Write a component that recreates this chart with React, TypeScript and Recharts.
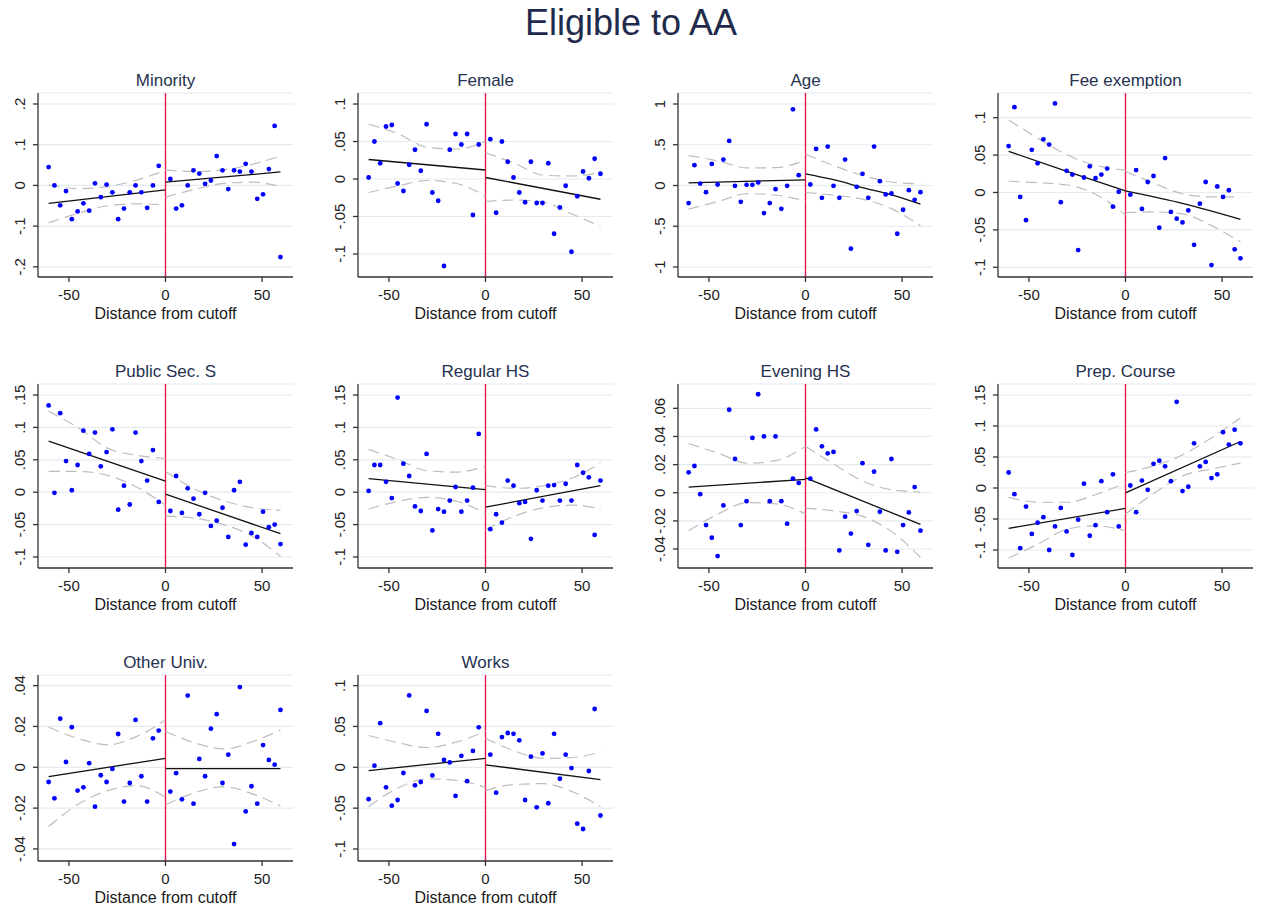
import {
  CartesianGrid,
  ComposedChart,
  Label,
  Line,
  ReferenceLine,
  Scatter,
  XAxis,
  YAxis,
} from "recharts";

// bin centres: 20 below the cutoff, 20 above
const BIN_X = [
  -60.5, -57.5, -54.5, -51.5, -48.5, -45.5, -42.5, -39.5, -36.5, -33.5,
  -30.5, -27.5, -24.5, -21.5, -18.5, -15.5, -12.5, -9.5, -6.5, -3.5,
  2.5, 5.5, 8.5, 11.5, 14.5, 17.5, 20.5, 23.5, 26.5, 29.5,
  32.5, 35.5, 38.5, 41.5, 44.5, 47.5, 50.5, 53.5, 56.5, 59.5,
];
const CI_XL = [-60.5, -45, -30, -15, 0];
const CI_XR = [0, 15, 30, 45, 59.5];
const X_TICKS = [-50, 0, 50];

type Pair = [number, number];

// Minority
const minorityY = [0.045, 0.0, -0.049, -0.014, -0.083, -0.064, -0.044, -0.062, 0.005, -0.029, 0.002, -0.017, -0.083, -0.057, -0.017, 0.0, -0.017, -0.055, 0.0, 0.048, 0.016, -0.057, -0.049, 0.0, 0.037, 0.029, 0.004, 0.012, 0.072, 0.037, -0.009, 0.037, 0.034, 0.053, 0.034, -0.033, -0.022, 0.04, 0.146, -0.176];
const minorityFitL: Pair[] = [[-60.5, -0.044], [0, -0.011]];
const minorityFitR: Pair[] = [[0, 0.008], [59.5, 0.033]];
const minorityHiL = [0.001, -0.008, -0.003, 0.013, 0.037];
const minorityLoL = [-0.092, -0.068, -0.05, -0.045, -0.048];
const minorityHiR = [0.038, 0.034, 0.038, 0.052, 0.072];
const minorityLoR = [-0.029, -0.01, 0.005, 0.008, -0.003];

// Female
const femaleY = [0.002, 0.05, 0.021, 0.07, 0.072, -0.006, -0.016, 0.019, 0.039, 0.011, 0.073, -0.018, -0.029, -0.116, 0.039, 0.06, 0.046, 0.06, -0.048, 0.046, 0.053, -0.045, 0.05, 0.023, 0.002, -0.018, -0.031, 0.023, -0.032, -0.032, 0.021, -0.073, -0.038, -0.009, -0.097, -0.023, 0.01, 0.001, 0.027, 0.007];
const femaleFitL: Pair[] = [[-60.5, 0.026], [0, 0.012]];
const femaleFitR: Pair[] = [[0, 0.002], [59.5, -0.027]];
const femaleHiL = [0.073, 0.06, 0.042, 0.04, 0.05];
const femaleLoL = [-0.018, -0.009, -0.002, -0.006, -0.023];
const femaleHiR = [0.035, 0.021, 0.005, 0.004, 0.009];
const femaleLoR = [-0.03, -0.028, -0.031, -0.047, -0.063];

// Age
const ageY = [-0.216, 0.249, 0.024, -0.082, 0.265, 0.012, 0.318, 0.547, -0.004, -0.2, 0.008, 0.008, 0.037, -0.339, -0.216, -0.045, -0.286, -0.004, 0.935, 0.127, 0.012, 0.449, -0.151, 0.478, -0.004, -0.151, 0.318, -0.776, -0.016, 0.143, -0.151, 0.478, 0.053, -0.11, -0.098, -0.592, -0.298, -0.057, -0.176, -0.082];
const ageFitL: Pair[] = [[-60.5, 0.033], [0, 0.07]];
const ageFitR: Pair[] = [[0, 0.143], [15, 0.068], [30, -0.028], [45, -0.118], [59.5, -0.229]];
const ageHiL = [0.367, 0.3, 0.215, 0.22, 0.31];
const ageLoL = [-0.29, -0.195, -0.1, -0.12, -0.19];
const ageHiR = [0.384, 0.24, 0.12, 0.04, 0.02];
const ageLoR = [-0.086, -0.12, -0.17, -0.29, -0.494];

// Fee exemption
const feeY = [0.062, 0.114, -0.006, -0.037, 0.057, 0.039, 0.071, 0.064, 0.119, -0.013, 0.029, 0.024, -0.077, 0.02, 0.035, 0.019, 0.024, 0.032, -0.019, 0.001, -0.003, 0.03, -0.022, 0.014, 0.022, -0.047, 0.046, -0.026, -0.035, -0.04, -0.024, -0.07, -0.015, 0.014, -0.097, 0.008, -0.006, 0.003, -0.076, -0.088];
const feeFitL: Pair[] = [[-60.5, 0.055], [-30, 0.028], [0, 0.002]];
const feeFitR: Pair[] = [[0, 0.002], [30, -0.015], [59.5, -0.036]];
const feeHiL = [0.097, 0.072, 0.05, 0.036, 0.03];
const feeLoL = [0.015, 0.013, 0.01, -0.003, -0.03];
const feeHiR = [0.028, 0.012, -0.002, -0.006, -0.006];
const feeLoR = [-0.027, -0.026, -0.029, -0.045, -0.066];

// Public Sec. S
const publicY = [0.134, -0.001, 0.122, 0.048, 0.003, 0.042, 0.095, 0.059, 0.092, 0.04, 0.062, 0.097, -0.027, 0.01, -0.019, 0.092, 0.048, 0.018, 0.065, -0.015, -0.029, 0.025, -0.032, 0.006, -0.01, -0.034, -0.001, -0.052, -0.044, -0.024, -0.069, 0.003, 0.016, -0.081, -0.063, -0.069, -0.03, -0.054, -0.05, -0.08];
const publicFitL: Pair[] = [[-60.5, 0.079], [0, 0.017]];
const publicFitR: Pair[] = [[0, -0.003], [59.5, -0.064]];
const publicHiL = [0.125, 0.099, 0.068, 0.057, 0.052];
const publicLoL = [0.032, 0.032, 0.026, 0.008, -0.02];
const publicHiR = [0.032, 0.005, -0.013, -0.024, -0.028];
const publicLoR = [-0.037, -0.04, -0.05, -0.068, -0.099];

// Regular HS
const regularY = [0.002, 0.042, 0.042, 0.016, -0.009, 0.146, 0.044, 0.025, -0.022, -0.029, 0.059, -0.059, -0.026, -0.03, -0.013, 0.008, -0.03, -0.013, 0.007, 0.09, -0.057, -0.034, -0.047, 0.018, 0.01, -0.017, -0.015, -0.072, 0.003, -0.013, 0.01, 0.011, -0.013, 0.013, -0.013, 0.042, 0.03, 0.023, -0.066, 0.018];
const regularFitL: Pair[] = [[-60.5, 0.021], [0, 0.004]];
const regularFitR: Pair[] = [[0, -0.023], [59.5, 0.01]];
const regularHiL = [0.066, 0.05, 0.033, 0.031, 0.04];
const regularLoL = [-0.026, -0.014, -0.008, -0.014, -0.032];
const regularHiR = [0.01, 0.006, 0.01, 0.022, 0.045];
const regularLoR = [-0.058, -0.037, -0.024, -0.02, -0.026];

// Evening HS
const eveningY = [0.0145, 0.019, -0.001, -0.023, -0.032, -0.045, -0.009, 0.059, 0.024, -0.023, -0.006, 0.039, 0.07, 0.04, -0.006, 0.04, -0.006, -0.022, 0.01, 0.007, 0.01, 0.045, 0.033, 0.028, 0.029, -0.041, -0.017, -0.029, -0.013, 0.021, -0.037, 0.015, -0.0135, -0.041, 0.024, -0.042, -0.023, -0.014, 0.004, -0.027];
const eveningFitL: Pair[] = [[-60.5, 0.004], [0, 0.0095]];
const eveningFitR: Pair[] = [[0, 0.0105], [59.5, -0.0225]];
const eveningHiL = [0.035, 0.028, 0.021, 0.023, 0.033];
const eveningLoL = [-0.027, -0.015, -0.007, -0.008, -0.015];
const eveningHiR = [0.033, 0.02, 0.008, 0.002, 0.0005];
const eveningLoR = [-0.011, -0.013, -0.017, -0.028, -0.046];

// Prep. Course
const prepY = [0.025, -0.01, -0.097, -0.03, -0.074, -0.056, -0.047, -0.1, -0.062, -0.032, -0.07, -0.108, -0.051, 0.007, -0.077, -0.06, 0.011, -0.039, 0.022, -0.062, 0.004, -0.039, 0.012, -0.003, 0.039, 0.044, 0.035, 0.011, 0.139, -0.005, 0.002, 0.072, 0.035, 0.042, 0.016, 0.022, 0.09, 0.07, 0.094, 0.072];
const prepFitL: Pair[] = [[-60.5, -0.065], [0, -0.033]];
const prepFitR: Pair[] = [[0, -0.008], [59.5, 0.075]];
const prepHiL = [-0.015, -0.023, -0.023, -0.01, 0.008];
const prepLoL = [-0.113, -0.09, -0.066, -0.061, -0.069];
const prepHiR = [0.025, 0.036, 0.054, 0.082, 0.113];
const prepLoR = [-0.042, -0.008, 0.02, 0.031, 0.04];

// Other Univ.
const otherY = [-0.0072, -0.0152, 0.0238, 0.0026, 0.0196, -0.0114, -0.0098, 0.002, -0.0193, -0.0039, -0.0072, -0.0008, 0.0163, -0.0168, -0.0077, 0.0232, -0.0044, -0.0168, 0.0142, 0.018, -0.0119, -0.0029, -0.0157, 0.0351, -0.0178, 0.0041, -0.0044, 0.0189, 0.026, -0.0077, 0.0062, -0.0376, 0.0393, -0.0216, -0.0093, -0.0178, 0.0109, 0.0036, 0.0013, 0.0281];
const otherFitL: Pair[] = [[-60.5, -0.0046], [0, 0.0044]];
const otherFitR: Pair[] = [[0, -0.0007], [59.5, -0.0007]];
const otherHiL = [0.0196, 0.014, 0.011, 0.015, 0.0232];
const otherLoL = [-0.029, -0.018, -0.0115, -0.009, -0.0147];
const otherHiR = [0.0175, 0.012, 0.009, 0.0125, 0.0183];
const otherLoR = [-0.0184, -0.0125, -0.0095, -0.013, -0.019];

// Works
const worksY = [-0.039, 0.002, 0.054, -0.0245, -0.047, -0.04, -0.007, 0.088, -0.022, -0.018, 0.069, -0.01, 0.041, 0.009, 0.006, -0.035, 0.014, -0.017, 0.02, 0.049, 0.0155, -0.031, 0.037, 0.042, 0.041, 0.033, -0.04, 0.013, -0.049, 0.017, -0.044, 0.041, -0.014, 0.0155, -0.001, -0.069, -0.0755, -0.0045, 0.0714, -0.059];
const worksFitL: Pair[] = [[-60.5, -0.004], [0, 0.011]];
const worksFitR: Pair[] = [[0, 0.003], [59.5, -0.015]];
const worksHiL = [0.039, 0.03, 0.024, 0.031, 0.044];
const worksLoL = [-0.048, -0.025, -0.014, -0.016, -0.0245];
const worksHiR = [0.0355, 0.02, 0.011, 0.012, 0.019];
const worksLoR = [-0.0285, -0.021, -0.02, -0.03, -0.048];

const FONT = "'Liberation Sans', Arial, sans-serif";
const ROW_TOP = [93, 384, 675];
const ROW_H = [184, 184, 186];

const pts = (xs: number[], ys: number[]) => xs.map((x, i) => ({ x, y: ys[i] }));
const pairs = (p: Pair[]) => p.map(([x, y]) => ({ x, y }));
const fmt = (v: number) => (v === 0 ? "0" : String(v).replace("0.", "."));

const panels = [
  { title: "Minority", y: minorityY, fitL: minorityFitL, fitR: minorityFitR, hiL: minorityHiL, loL: minorityLoL, hiR: minorityHiR, loR: minorityLoR, domain: [-0.225, 0.227], ticks: [-0.2, -0.1, 0, 0.1, 0.2] },
  { title: "Female", y: femaleY, fitL: femaleFitL, fitR: femaleFitR, hiL: femaleHiL, loL: femaleLoL, hiR: femaleHiR, loR: femaleLoR, domain: [-0.1307, 0.1147], ticks: [-0.1, -0.05, 0, 0.05, 0.1] },
  { title: "Age", y: ageY, fitL: ageFitL, fitR: ageFitR, hiL: ageHiL, loL: ageLoL, hiR: ageHiR, loR: ageLoR, domain: [-1.123, 1.135], ticks: [-1, -0.5, 0, 0.5, 1] },
  { title: "Fee exemption", y: feeY, fitL: feeFitL, fitR: feeFitR, hiL: feeHiL, loL: feeLoL, hiR: feeHiR, loR: feeLoR, domain: [-0.113, 0.133], ticks: [-0.1, -0.05, 0, 0.05, 0.1] },
  { title: "Public Sec. S", y: publicY, fitL: publicFitL, fitR: publicFitR, hiL: publicHiL, loL: publicLoL, hiR: publicHiR, loR: publicLoR, domain: [-0.117, 0.167], ticks: [-0.1, -0.05, 0, 0.05, 0.1, 0.15] },
  { title: "Regular HS", y: regularY, fitL: regularFitL, fitR: regularFitR, hiL: regularHiL, loL: regularLoL, hiR: regularHiR, loR: regularLoR, domain: [-0.117, 0.167], ticks: [-0.1, -0.05, 0, 0.05, 0.1, 0.15] },
  { title: "Evening HS", y: eveningY, fitL: eveningFitL, fitR: eveningFitR, hiL: eveningHiL, loL: eveningLoL, hiR: eveningHiR, loR: eveningLoR, domain: [-0.0535, 0.0773], ticks: [-0.04, -0.02, 0, 0.02, 0.04, 0.06] },
  { title: "Prep. Course", y: prepY, fitL: prepFitL, fitR: prepFitR, hiL: prepHiL, loL: prepLoL, hiR: prepHiR, loR: prepLoR, domain: [-0.129, 0.1677], ticks: [-0.1, -0.05, 0, 0.05, 0.1, 0.15] },
  { title: "Other Univ.", y: otherY, fitL: otherFitL, fitR: otherFitR, hiL: otherHiL, loL: otherLoL, hiR: otherHiR, loR: otherLoR, domain: [-0.0459, 0.0452], ticks: [-0.04, -0.02, 0, 0.02, 0.04] },
  { title: "Works", y: worksY, fitL: worksFitL, fitR: worksFitR, hiL: worksHiL, loL: worksLoL, hiR: worksHiR, loR: worksLoR, domain: [-0.1147, 0.113], ticks: [-0.1, -0.05, 0, 0.05, 0.1] },
];

type PanelDef = (typeof panels)[number];

function YTick(props: any) {
  const { y, payload } = props;
  const cx = 20;
  return (
    <text
      x={cx}
      y={y}
      transform={`rotate(-90, ${cx}, ${y})`}
      textAnchor="middle"
      dominantBaseline="central"
      fontSize={15}
      fontFamily={FONT}
      fill="#222"
    >
      {fmt(payload.value)}
    </text>
  );
}

const Dot = (p: any) => <circle cx={p.cx} cy={p.cy} r={2.4} fill="#0000ff" />;

function Panel({ p, col, row }: { p: PanelDef; col: number; row: number }) {
  const plotH = ROW_H[row];
  const H = plotH + 5 + 45;
  const left = col * 320;
  const top = ROW_TOP[row] - 5;
  const ciStyle = { stroke: "#bdbdbd", strokeWidth: 1.2, strokeDasharray: "11 6" };
  return (
    <div style={{ position: "absolute", left, top, width: 320, height: H }}>
      <ComposedChart
        width={320}
        height={H}
        margin={{ top: 5, right: 27, bottom: 0, left: 0 }}
      >
        <CartesianGrid vertical={false} stroke="#e3ecef" strokeWidth={1.2} />
        <XAxis
          type="number"
          dataKey="x"
          domain={[-66, 66]}
          ticks={X_TICKS}
          allowDataOverflow
          height={45}
          tickSize={5}
          tickMargin={7}
          axisLine={{ stroke: "#333", strokeWidth: 1.3 }}
          tickLine={{ stroke: "#333", strokeWidth: 1.3 }}
          tick={{ fontSize: 15, fill: "#222", fontFamily: FONT }}
        >
          <Label
            value="Distance from cutoff"
            position="insideBottom"
            offset={3}
            style={{ fontSize: 16, fill: "#1a1a1a", fontFamily: FONT }}
          />
        </XAxis>
        <YAxis
          type="number"
          dataKey="y"
          domain={p.domain}
          ticks={p.ticks}
          allowDataOverflow
          width={38}
          tickSize={5}
          axisLine={{ stroke: "#333", strokeWidth: 1.3 }}
          tickLine={{ stroke: "#333", strokeWidth: 1.3 }}
          tick={<YTick />}
        />
        <ReferenceLine x={0} stroke="#e8174a" strokeWidth={1.4} strokeOpacity={1} />
        <Line data={pts(CI_XL, p.hiL)} dataKey="y" type="monotone" dot={false} activeDot={false} isAnimationActive={false} {...ciStyle} />
        <Line data={pts(CI_XL, p.loL)} dataKey="y" type="monotone" dot={false} activeDot={false} isAnimationActive={false} {...ciStyle} />
        <Line data={pts(CI_XR, p.hiR)} dataKey="y" type="monotone" dot={false} activeDot={false} isAnimationActive={false} {...ciStyle} />
        <Line data={pts(CI_XR, p.loR)} dataKey="y" type="monotone" dot={false} activeDot={false} isAnimationActive={false} {...ciStyle} />
        <Line data={pairs(p.fitL)} dataKey="y" type="monotone" dot={false} activeDot={false} stroke="#111" strokeWidth={1.3} isAnimationActive={false} />
        <Line data={pairs(p.fitR)} dataKey="y" type="monotone" dot={false} activeDot={false} stroke="#111" strokeWidth={1.3} isAnimationActive={false} />
        <Scatter data={pts(BIN_X, p.y)} shape={Dot} isAnimationActive={false} />
      </ComposedChart>
      <div
        style={{
          position: "absolute",
          left: 38,
          width: 255,
          top: -17,
          lineHeight: "20px",
          textAlign: "center",
          fontSize: 17,
          color: "#26324f",
          fontFamily: FONT,
        }}
      >
        {p.title}
      </div>
    </div>
  );
}

export default function App() {
  return (
    <div
      style={{
        position: "absolute",
        left: 0,
        top: 0,
        width: 1264,
        height: 907,
        background: "#fff",
        fontFamily: FONT,
        overflow: "hidden",
      }}
    >
      <div
        style={{
          position: "absolute",
          left: 0,
          width: 1262,
          top: 3,
          lineHeight: "40px",
          fontSize: 36,
          textAlign: "center",
          color: "#1f2b4d",
        }}
      >
        Eligible to AA
      </div>
      {panels.map((p, i) => (
        <Panel key={p.title} p={p} col={i % 4} row={Math.floor(i / 4)} />
      ))}
    </div>
  );
}
